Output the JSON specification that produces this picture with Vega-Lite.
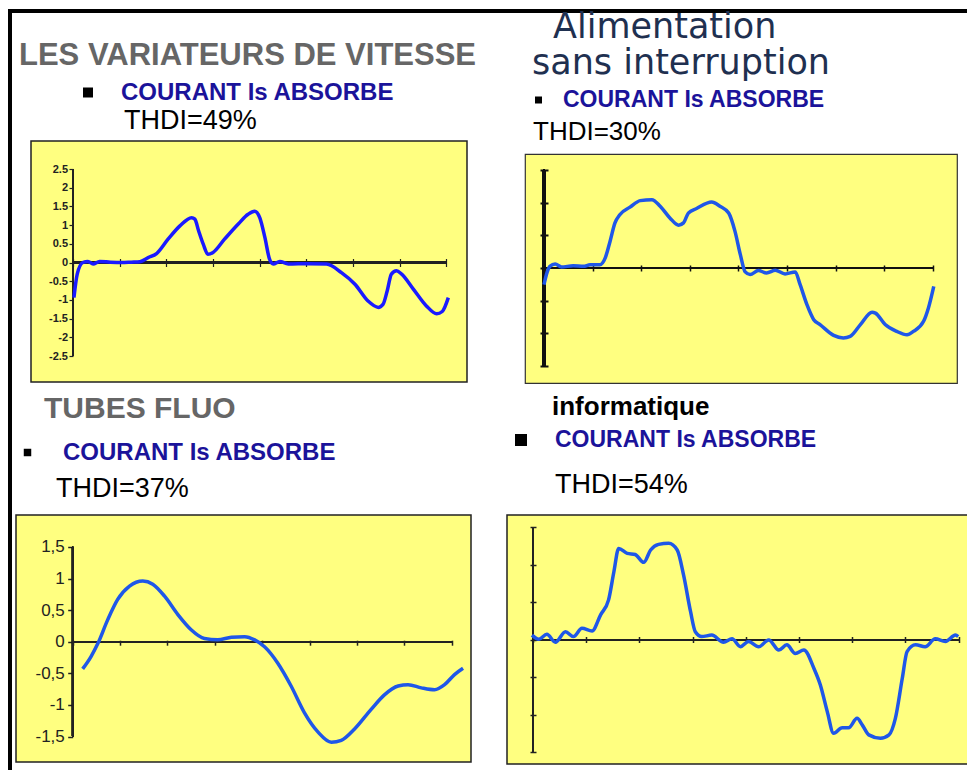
{
  "$schema": "https://vega.github.io/schema/vega-lite/v6.json",
  "background": "white",
  "padding": {"left": 8, "top": 9, "right": 0, "bottom": 0},
  "autosize": {"type": "pad"},
  "config": {"view": {"stroke": null}, "font": "Liberation Sans", "axis": {"labelOverlap": false, "labelSeparation": 0, "tickCount": 20}},
  "datasets": {
    "vv": [
      {"t": 0.02, "i": -0.94}, {"t": 0.09, "i": -0.31}, {"t": 0.21, "i": 0}, {"t": 0.32, "i": 0.03}, {"t": 0.43, "i": -0.04},
      {"t": 0.57, "i": 0.03}, {"t": 0.8, "i": 0.01}, {"t": 1.04, "i": 0}, {"t": 1.25, "i": 0.01}, {"t": 1.43, "i": 0.02},
      {"t": 1.61, "i": 0.13}, {"t": 1.79, "i": 0.24}, {"t": 2.04, "i": 0.63}, {"t": 2.29, "i": 0.98}, {"t": 2.54, "i": 1.2},
      {"t": 2.61, "i": 1.16}, {"t": 2.69, "i": 0.85}, {"t": 2.79, "i": 0.49}, {"t": 2.89, "i": 0.22}, {"t": 3.0, "i": 0.27},
      {"t": 3.25, "i": 0.63}, {"t": 3.54, "i": 1.03}, {"t": 3.75, "i": 1.29}, {"t": 3.89, "i": 1.37}, {"t": 4.0, "i": 1.2},
      {"t": 4.11, "i": 0.67}, {"t": 4.21, "i": 0.09}, {"t": 4.29, "i": -0.04}, {"t": 4.43, "i": 0.03}, {"t": 4.61, "i": -0.04},
      {"t": 5.04, "i": -0.03}, {"t": 5.43, "i": -0.04}, {"t": 5.75, "i": -0.27}, {"t": 6.04, "i": -0.58}, {"t": 6.32, "i": -1.03},
      {"t": 6.54, "i": -1.2}, {"t": 6.64, "i": -1.12}, {"t": 6.73, "i": -0.76}, {"t": 6.82, "i": -0.31}, {"t": 6.93, "i": -0.22},
      {"t": 7.04, "i": -0.31}, {"t": 7.29, "i": -0.71}, {"t": 7.57, "i": -1.16}, {"t": 7.79, "i": -1.37}, {"t": 7.91, "i": -1.31},
      {"t": 8.04, "i": -0.94}
    ],
    "asi": [
      {"t": 0, "i": -0.51}, {"t": 0.05, "i": -0.2}, {"t": 0.12, "i": 0.05}, {"t": 0.23, "i": 0.12}, {"t": 0.36, "i": 0.03},
      {"t": 0.6, "i": 0.07}, {"t": 0.81, "i": 0.05}, {"t": 0.95, "i": 0.1}, {"t": 1.15, "i": 0.1}, {"t": 1.26, "i": 0.31},
      {"t": 1.36, "i": 0.82}, {"t": 1.46, "i": 1.38}, {"t": 1.56, "i": 1.63}, {"t": 1.77, "i": 1.86}, {"t": 1.98, "i": 2.06},
      {"t": 2.22, "i": 2.09}, {"t": 2.39, "i": 1.89}, {"t": 2.59, "i": 1.53}, {"t": 2.77, "i": 1.31}, {"t": 2.87, "i": 1.38},
      {"t": 2.97, "i": 1.68}, {"t": 3.14, "i": 1.82}, {"t": 3.45, "i": 2.02}, {"t": 3.62, "i": 1.89}, {"t": 3.8, "i": 1.68},
      {"t": 3.93, "i": 1.12}, {"t": 4.04, "i": 0.41}, {"t": 4.14, "i": -0.12}, {"t": 4.24, "i": -0.2}, {"t": 4.41, "i": -0.08},
      {"t": 4.58, "i": -0.15}, {"t": 4.76, "i": -0.07}, {"t": 4.96, "i": -0.18}, {"t": 5.17, "i": -0.12}, {"t": 5.27, "i": -0.51},
      {"t": 5.41, "i": -1.12}, {"t": 5.55, "i": -1.58}, {"t": 5.68, "i": -1.73}, {"t": 5.96, "i": -2.06}, {"t": 6.16, "i": -2.14},
      {"t": 6.3, "i": -2.09}, {"t": 6.51, "i": -1.73}, {"t": 6.75, "i": -1.35}, {"t": 6.82, "i": -1.38}, {"t": 7.02, "i": -1.73},
      {"t": 7.26, "i": -1.94}, {"t": 7.47, "i": -2.04}, {"t": 7.6, "i": -1.94}, {"t": 7.81, "i": -1.63}, {"t": 7.91, "i": -1.22},
      {"t": 8.02, "i": -0.56}
    ],
    "fluo": [
      {"t": 0.21, "i": -0.43}, {"t": 0.39, "i": -0.23}, {"t": 0.53, "i": -0.03}, {"t": 0.74, "i": 0.35}, {"t": 0.95, "i": 0.67},
      {"t": 1.2, "i": 0.88}, {"t": 1.48, "i": 0.96}, {"t": 1.69, "i": 0.91}, {"t": 1.94, "i": 0.72}, {"t": 2.22, "i": 0.43},
      {"t": 2.5, "i": 0.19}, {"t": 2.78, "i": 0.05}, {"t": 3.06, "i": 0.03}, {"t": 3.35, "i": 0.07}, {"t": 3.63, "i": 0.08},
      {"t": 3.84, "i": 0.03}, {"t": 4.05, "i": -0.08}, {"t": 4.33, "i": -0.34}, {"t": 4.61, "i": -0.7}, {"t": 4.89, "i": -1.12},
      {"t": 5.18, "i": -1.43}, {"t": 5.46, "i": -1.59}, {"t": 5.67, "i": -1.56}, {"t": 5.95, "i": -1.38}, {"t": 6.3, "i": -1.07},
      {"t": 6.58, "i": -0.84}, {"t": 6.87, "i": -0.7}, {"t": 7.08, "i": -0.68}, {"t": 7.36, "i": -0.73}, {"t": 7.64, "i": -0.76},
      {"t": 7.85, "i": -0.68}, {"t": 8.06, "i": -0.52}, {"t": 8.24, "i": -0.42}
    ],
    "info": [
      {"t": -0.02, "i": 0.13}, {"t": 0.11, "i": 0.02}, {"t": 0.26, "i": 0.15}, {"t": 0.42, "i": -0.06}, {"t": 0.61, "i": 0.22},
      {"t": 0.76, "i": 0.09}, {"t": 0.92, "i": 0.31}, {"t": 1.11, "i": 0.24}, {"t": 1.27, "i": 0.67}, {"t": 1.42, "i": 1.07},
      {"t": 1.52, "i": 1.82}, {"t": 1.61, "i": 2.44}, {"t": 1.77, "i": 2.31}, {"t": 1.92, "i": 2.28}, {"t": 2.08, "i": 2.07},
      {"t": 2.21, "i": 2.4}, {"t": 2.36, "i": 2.55}, {"t": 2.55, "i": 2.58}, {"t": 2.71, "i": 2.4}, {"t": 2.83, "i": 1.73},
      {"t": 2.96, "i": 0.76}, {"t": 3.05, "i": 0.22}, {"t": 3.17, "i": 0.09}, {"t": 3.36, "i": 0.13}, {"t": 3.58, "i": -0.06},
      {"t": 3.74, "i": 0.03}, {"t": 3.9, "i": -0.18}, {"t": 4.05, "i": -0.04}, {"t": 4.24, "i": -0.18}, {"t": 4.43, "i": 0},
      {"t": 4.62, "i": -0.27}, {"t": 4.77, "i": -0.13}, {"t": 4.93, "i": -0.36}, {"t": 5.09, "i": -0.27}, {"t": 5.28, "i": -0.76},
      {"t": 5.4, "i": -1.2}, {"t": 5.53, "i": -1.91}, {"t": 5.65, "i": -2.49}, {"t": 5.81, "i": -2.34}, {"t": 5.93, "i": -2.34},
      {"t": 6.09, "i": -2.09}, {"t": 6.19, "i": -2.27}, {"t": 6.31, "i": -2.53}, {"t": 6.53, "i": -2.62}, {"t": 6.69, "i": -2.53},
      {"t": 6.81, "i": -2.09}, {"t": 6.94, "i": -1.02}, {"t": 7.03, "i": -0.31}, {"t": 7.19, "i": -0.13}, {"t": 7.37, "i": -0.18},
      {"t": 7.56, "i": 0.03}, {"t": 7.75, "i": -0.04}, {"t": 7.94, "i": 0.13}, {"t": 7.99, "i": 0.09}
    ]
  },
  "columns": 3,
  "align": "none",
  "bounds": "full",
  "spacing": {"row": -4, "column": 0},
  "resolve": {"scale": {"color": "independent"}, "legend": {"color": "independent"}},
  "concat": [
    {"width": 4, "height": 4, "view": {"fill": "#000000"}, "data": {"values": []}, "mark": {"type": "point", "opacity": 0}},
    {"width": 456, "height": 4, "view": {"fill": "#000000"}, "data": {"values": []}, "mark": {"type": "point", "opacity": 0}},
    {"width": 520, "height": 4, "view": {"fill": "#000000"}, "data": {"values": []}, "mark": {"type": "point", "opacity": 0}},

    {"width": 4, "height": 242, "view": {"fill": "#000000"}, "data": {"values": []}, "mark": {"type": "point", "opacity": 0}},
    {
      "width": 436, "height": 241,
      "view": {"fill": "#ffff80", "stroke": "#222222", "strokeWidth": 1.5},
      "data": {"name": "vv"},
      "layer": [
        {"mark": {"type": "rule", "color": "#222222", "strokeWidth": 1.5},
         "encoding": {"x": {"datum": 0}, "y": {"datum": -2.5}, "y2": {"datum": 2.5}}},
        {"mark": {"type": "rule", "color": "#222222", "strokeWidth": 1.5},
         "encoding": {"y": {"datum": 0}, "x": {"datum": 0}, "x2": {"datum": 8}}},
        {"mark": {"type": "line", "interpolate": "monotone", "strokeWidth": 3.5},
         "encoding": {
           "x": {"field": "t", "type": "quantitative", "scale": {"domain": [-0.9, 8.44], "nice": false, "zero": false},
             "axis": {"orient": "top", "offset": -125.5, "domain": false, "grid": false, "labels": false, "minExtent": 256.7, "maxExtent": 1000, "tickCount": 20,
               "values": [0, 1, 2, 3, 4, 5, 6, 7, 8], "tickSize": 8, "tickColor": "#222222", "tickWidth": 1.2,
               "title": "LES VARIATEURS DE VITESSE", "titleX": -12.5, "titleY": -202, "titleAlign": "left", "titleBaseline": "alphabetic",
               "titleAngle": 0, "titleFont": "Liberation Sans", "titleFontSize": 31, "titleFontWeight": "bold", "titleColor": "#666666", "titleLimit": 2000}},
           "y": {"field": "i", "type": "quantitative", "scale": {"domain": [-3.195, 3.249], "nice": false, "zero": false},
             "axis": {"orient": "left", "offset": -42, "domain": false, "grid": false, "minExtent": 60.2, "maxExtent": 1000, "tickCount": 20,
               "values": [-2.5, -2, -1.5, -1, -0.5, 0, 0.5, 1, 1.5, 2, 2.5], "tickSize": 4, "tickColor": "#222222", "tickWidth": 1.2,
               "labelExpr": "'' + datum.value", "labelFont": "Liberation Sans", "labelFontSize": 11, "labelFontWeight": "bold", "labelColor": "#222222",
               "labelPadding": 1.5, "labelOverlap": false, "labelSeparation": 0, "labelFlush": false,
               "title": "THDI=49%", "titleX": 50.5, "titleY": -12.5, "titleAngle": 0, "titleAlign": "left", "titleBaseline": "alphabetic",
               "titleFont": "Liberation Sans", "titleFontSize": 27, "titleFontWeight": "normal", "titleColor": "#000000", "titleLimit": 2000}},
           "color": {"datum": "COURANT Is ABSORBE", "scale": {"range": ["#1a1aff"]},
             "legend": {"orient": "none", "legendX": 45, "legendY": -60.5, "title": null, "padding": 0,
               "symbolType": "square", "symbolSize": 100, "symbolStrokeWidth": 0, "symbolOffset": 0, "labelOffset": 21,
               "labelFont": "Liberation Sans", "labelFontSize": 24, "labelFontWeight": "bold", "labelColor": "#1b139a", "labelLimit": 500,
               "encode": {"symbols": {"update": {"fill": {"value": "#000000"}, "stroke": {"value": "#000000"}, "shape": {"value": "square"}, "opacity": {"value": 1}}}}}}
         }}
      ]
    },
    {
      "width": 432, "height": 229,
      "view": {"fill": "#ffff80", "stroke": "#333333", "strokeWidth": 1.2},
      "data": {"name": "asi"},
      "title": {"text": "Alimentation", "anchor": "start", "frame": "group", "dx": 28, "offset": 1,
        "font": "DejaVu Sans", "fontSize": 35, "fontWeight": "normal", "color": "#1f3050"},
      "layer": [
        {"mark": {"type": "rule", "color": "#111111", "strokeWidth": 2.5},
         "encoding": {"x": {"datum": 0}, "y": {"datum": -3}, "y2": {"datum": 3}}},
        {"mark": {"type": "rule", "color": "#111111", "strokeWidth": 1.5},
         "encoding": {"y": {"datum": 0}, "x": {"datum": 0}, "x2": {"datum": 8}}},
        {"mark": {"type": "line", "interpolate": "monotone", "strokeWidth": 3.5},
         "encoding": {
           "x": {"field": "t", "type": "quantitative", "scale": {"domain": [-0.391, 8.498], "nice": false, "zero": false},
             "axis": {"orient": "bottom", "offset": -118, "domain": false, "grid": false, "labels": false, "minExtent": 0, "tickCount": 20,
               "values": [0, 1, 2, 3, 4, 5, 6, 7, 8], "tickSize": 6, "tickColor": "#111111", "tickWidth": 1.5,
               "title": "sans interruption", "titleX": 6.5, "titleY": -191.2, "titleAlign": "left", "titleBaseline": "alphabetic",
               "titleAngle": 0, "titleFont": "DejaVu Sans", "titleFontSize": 35, "titleFontWeight": "normal", "titleColor": "#1f3050", "titleLimit": 2000}},
           "y": {"field": "i", "type": "quantitative", "scale": {"domain": [-3.517, 3.486], "nice": false, "zero": false},
             "axis": {"orient": "left", "offset": -23, "domain": false, "grid": false, "minExtent": 60.2, "maxExtent": 1000, "labels": false, "tickCount": 20,
               "values": [-3, -2, -1, 0, 1, 2, 3], "tickSize": 8, "tickColor": "#111111", "tickWidth": 2,
               "title": "THDI=30%", "titleX": -15.5, "titleY": -14.5, "titleAngle": 0, "titleAlign": "left", "titleBaseline": "alphabetic",
               "titleFont": "Liberation Sans", "titleFontSize": 26, "titleFontWeight": "normal", "titleColor": "#000000", "titleLimit": 2000}},
           "color": {"datum": "COURANT Is ABSORBE", "scale": {"range": ["#1f57e8"]},
             "legend": {"orient": "none", "legendX": 2, "legendY": -65.5, "title": null, "padding": 0,
               "symbolType": "square", "symbolSize": 49, "symbolStrokeWidth": 0, "symbolOffset": 0, "labelOffset": 13,
               "labelFont": "Liberation Sans", "labelFontSize": 23, "labelFontWeight": "bold", "labelColor": "#1b139a", "labelLimit": 500,
               "encode": {"symbols": {"update": {"fill": {"value": "#000000"}, "stroke": {"value": "#000000"}, "shape": {"value": "square"}, "opacity": {"value": 1}}}}}}
         }}
      ]
    },

    {"width": 4, "height": 540, "view": {"fill": "#000000"}, "data": {"values": []}, "mark": {"type": "point", "opacity": 0}},
    {
      "width": 455, "height": 247,
      "view": {"fill": "#ffff80", "stroke": "#222222", "strokeWidth": 1.5},
      "data": {"name": "fluo"},
      "layer": [
        {"mark": {"type": "rule", "color": "#222222", "strokeWidth": 1.5},
         "encoding": {"x": {"datum": 0}, "y": {"datum": -1.5}, "y2": {"datum": 1.5}}},
        {"mark": {"type": "rule", "color": "#222222", "strokeWidth": 1.5},
         "encoding": {"y": {"datum": 0}, "x": {"datum": 0}, "x2": {"datum": 8}}},
        {"mark": {"type": "line", "interpolate": "monotone", "strokeWidth": 3.5},
         "encoding": {
           "x": {"field": "t", "type": "quantitative", "scale": {"domain": [-1.197, 8.408], "nice": false, "zero": false},
             "axis": {"orient": "top", "offset": -130.2, "domain": false, "grid": false, "labels": false, "minExtent": 265.4, "maxExtent": 1000, "tickCount": 20,
               "values": [0, 1, 2, 3, 4, 5, 6, 7, 8], "tickSize": 5, "tickColor": "#222222", "tickWidth": 1.5,
               "title": "TUBES FLUO", "titleX": 27.5, "titleY": -227.4, "titleAlign": "left", "titleBaseline": "alphabetic",
               "titleAngle": 0, "titleFont": "Liberation Sans", "titleFontSize": 30, "titleFontWeight": "bold", "titleColor": "#666666", "titleLimit": 2000}},
           "y": {"field": "i", "type": "quantitative", "scale": {"domain": [-1.903, 2.005], "nice": false, "zero": false},
             "axis": {"orient": "left", "offset": -56.7, "domain": false, "grid": false, "minExtent": 59.9, "maxExtent": 1000, "tickCount": 20,
               "values": [-1.5, -1, -0.5, 0, 0.5, 1, 1.5], "tickSize": 5, "tickColor": "#222222", "tickWidth": 1.5,
               "labelExpr": "replace('' + datum.value, '.', ',')", "labelFont": "Liberation Sans", "labelFontSize": 17, "labelFontWeight": "normal", "labelColor": "#222222",
               "labelPadding": 3.4, "labelOverlap": false, "labelFlush": false,
               "title": "THDI=37%", "titleX": -17.2, "titleY": -18.8, "titleAngle": 0, "titleAlign": "left", "titleBaseline": "alphabetic",
               "titleFont": "Liberation Sans", "titleFontSize": 27, "titleFontWeight": "normal", "titleColor": "#000000", "titleLimit": 2000}},
           "color": {"datum": "COURANT Is ABSORBE", "scale": {"range": ["#1f57e8"]},
             "legend": {"orient": "none", "legendX": -0.5, "legendY": -74.5, "title": null, "padding": 0,
               "symbolType": "square", "symbolSize": 56, "symbolStrokeWidth": 0, "symbolOffset": 0, "labelOffset": 23.5,
               "labelFont": "Liberation Sans", "labelFontSize": 24, "labelFontWeight": "bold", "labelColor": "#1b139a", "labelLimit": 500,
               "encode": {"symbols": {"update": {"fill": {"value": "#000000"}, "stroke": {"value": "#000000"}, "shape": {"value": "square"}, "opacity": {"value": 1}}}}}}
         }}
      ]
    },
    {
      "width": 461, "height": 249,
      "view": {"fill": "#ffff80", "stroke": "#222222", "strokeWidth": 1.5},
      "data": {"name": "info"},
      "layer": [
        {"mark": {"type": "rule", "color": "#222222", "strokeWidth": 1.5},
         "encoding": {"x": {"datum": 0}, "y": {"datum": -3}, "y2": {"datum": 3}}},
        {"mark": {"type": "rule", "color": "#222222", "strokeWidth": 1.5},
         "encoding": {"y": {"datum": 0}, "x": {"datum": 0}, "x2": {"datum": 8}}},
        {"mark": {"type": "line", "interpolate": "monotone", "strokeWidth": 3.5},
         "encoding": {
           "x": {"field": "t", "type": "quantitative", "scale": {"domain": [-0.489, 8.175], "nice": false, "zero": false},
             "axis": {"orient": "top", "offset": -127.5, "domain": false, "grid": false, "labels": false, "minExtent": 249.7, "maxExtent": 1000, "tickCount": 20,
               "values": [0, 1, 2, 3, 4, 5, 6, 7, 8], "tickSize": 6, "tickColor": "#222222", "tickWidth": 1.5,
               "title": "informatique", "titleX": 44.5, "titleY": -228, "titleAlign": "left", "titleBaseline": "alphabetic",
               "titleAngle": 0, "titleFont": "Liberation Sans", "titleFontSize": 26, "titleFontWeight": "bold", "titleColor": "#000000", "titleLimit": 2000}},
           "y": {"field": "i", "type": "quantitative", "scale": {"domain": [-3.307, 3.333], "nice": false, "zero": false},
             "axis": {"orient": "left", "offset": -29, "domain": false, "grid": false, "minExtent": 63.2, "maxExtent": 1000, "labels": false, "tickCount": 20,
               "values": [-3, -2, -1, 0, 1, 2, 3], "tickSize": 6, "tickColor": "#222222", "tickWidth": 1.5,
               "title": "THDI=54%", "titleX": 18.5, "titleY": -22.5, "titleAngle": 0, "titleAlign": "left", "titleBaseline": "alphabetic",
               "titleFont": "Liberation Sans", "titleFontSize": 27, "titleFontWeight": "normal", "titleColor": "#000000", "titleLimit": 2000}},
           "color": {"datum": "COURANT Is ABSORBE", "scale": {"range": ["#1f57e8"]},
             "legend": {"orient": "none", "legendX": 2.5, "legendY": -86.5, "title": null, "padding": 0,
               "symbolType": "square", "symbolSize": 144, "symbolStrokeWidth": 0, "symbolOffset": 0, "labelOffset": 22.5,
               "labelFont": "Liberation Sans", "labelFontSize": 23, "labelFontWeight": "bold", "labelColor": "#1b139a", "labelLimit": 500,
               "encode": {"symbols": {"update": {"fill": {"value": "#000000"}, "stroke": {"value": "#000000"}, "shape": {"value": "square"}, "opacity": {"value": 1}}}}}}
         }}
      ]
    }
  ]
}
